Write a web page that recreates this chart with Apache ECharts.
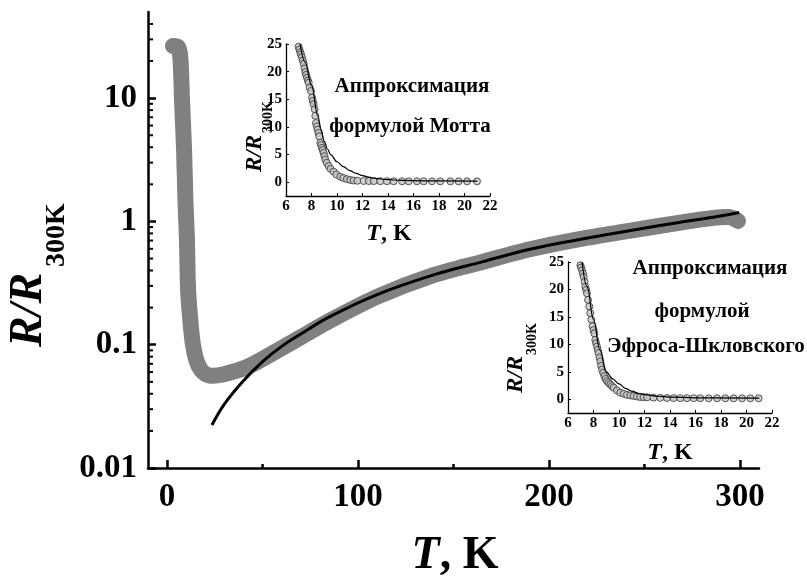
<!DOCTYPE html>
<html>
<head>
<meta charset="utf-8">
<script src="https://cdn.jsdelivr.net/npm/echarts@6/dist/echarts.min.js"></script>
<style>html,body{margin:0;padding:0;background:#fff;}#c{width:807px;height:578px;}</style>
</head>
<body>
<div id="c"></div>
<script>
// ---------- main plot data ----------
const bandT = [3.1,5.7,6.8,7.3,7.8,8.9,9.6,10.4,11.0,12.3,13.6,15.7,18.8,23.5,30.3,41.9,50.2,70,85,110,138,164,190,216,242,268,286,294,299];
const bandR = [26.5,26.0,22.4,16.9,9.7,3.8,1.49,0.71,0.28,0.15,0.099,0.072,0.060,0.056,0.058,0.066,0.077,0.115,0.156,0.245,0.36,0.465,0.595,0.72,0.84,0.975,1.07,1.085,1.01];
const fitT = [23.5,30,40,50,60,70,85,110,140,165,190,216,242,268,286,299.6];
const fitR = [0.0223,0.033,0.051,0.073,0.097,0.122,0.168,0.255,0.37,0.47,0.595,0.715,0.84,0.98,1.08,1.18];
const mainXTicks = [0,100,200,300];
const mainXMinor = [50,150,250];
const mainYTickLabels = ['0.01','0.1','1','10'];
const mainYMinor = [0.02,0.03,0.04,0.05,0.06,0.07,0.08,0.09,0.2,0.3,0.4,0.5,0.6,0.7,0.8,0.9,2,3,4,5,6,7,8,9,20,30,40];

// ---------- inset 1 (Mott) ----------
const inset1T = [6.99,7.05,7.12,7.18,7.25,7.32,7.39,7.45,7.52,7.58,7.65,7.72,7.78,7.86,7.96,8.04,8.10,8.17,8.25,8.30,8.35,8.42,8.48,8.55,8.61,8.69,8.75,8.82,8.88,8.95,9.02,9.08,9.2,9.35,9.5,9.74,9.95,10.26,10.5,10.78,11.05,11.31,11.6,12.09,12.5,12.88,13.4,13.92,14.44,15.10,15.62,16.27,16.80,17.45,18.10,18.89,19.54,20.20,20.98];
const inset1R = [24.5,24.0,23.5,23.1,22.6,22.0,21.4,20.6,19.9,19.4,18.9,18.4,18.0,17.1,16.5,15.3,14.7,14.1,13.2,12.0,10.7,10.1,9.5,8.9,8.3,7.1,6.7,6.2,5.8,5.3,4.7,4.1,3.5,2.9,2.4,1.9,1.4,1.0,0.75,0.55,0.4,0.3,0.25,0.22,0.2,0.2,0.18,0.18,0.17,0.17,0.16,0.16,0.16,0.15,0.15,0.15,0.15,0.15,0.15];
const mottT = [7.1,7.5,8,8.5,8.75,9,9.25,9.5,10,10.5,11,11.5,12,12.5,13,14,15,17,21];
const mottR = [25,21.7,17.5,12,9.5,7.4,6,5,3.7,2.8,2.1,1.6,1.2,0.9,0.7,0.45,0.33,0.25,0.2];

// ---------- inset 2 (Efros-Shklovskii) ----------
const inset2T = [6.97,7.03,7.1,7.17,7.23,7.3,7.36,7.43,7.49,7.57,7.67,7.75,7.83,7.93,8.0,8.07,8.14,8.2,8.27,8.34,8.4,8.47,8.54,8.6,8.67,8.76,8.85,8.95,9.06,9.19,9.32,9.45,9.58,9.84,10.1,10.37,10.63,10.89,11.15,11.41,11.67,11.93,12.2,12.7,13.24,13.76,14.29,14.81,15.33,15.86,16.38,17.03,17.69,18.34,18.99,19.65,20.3,20.95];
const inset2R = [24.4,24.0,23.5,22.9,22.3,21.4,20.5,19.9,19.3,18.1,16.9,15.7,14.5,13.3,12.6,12.0,10.8,10.2,9.6,9.0,8.4,7.6,6.9,6.1,5.4,4.8,4.2,3.7,3.3,3.0,2.7,2.4,2.1,1.6,1.2,1.0,0.8,0.7,0.6,0.5,0.4,0.38,0.36,0.3,0.26,0.24,0.22,0.2,0.2,0.19,0.19,0.18,0.18,0.18,0.17,0.17,0.17,0.17];
const esT = [7.1,7.5,8,8.5,9,9.5,10,10.5,11,11.5,12,13,14,16,21];
const esR = [25,20.5,14.5,9,5.0,3.7,2.8,2.0,1.5,1.1,0.85,0.55,0.4,0.27,0.2];

const insetYTicks = [0,5,10,15,20,25];

const FONT = "'Liberation Serif', 'Times New Roman', serif";
const zip = (a, b) => a.map((v, i) => [v, b[i]]);

function insetAxes(gi) {
  const x = {
    gridIndex: gi, type: 'value', min: 6, max: 22, interval: 2,
    axisLine: {show: true, onZero: false, lineStyle: {color: '#000', width: 1.3}},
    axisTick: {show: true, inside: true, length: 3, lineStyle: {color: '#000', width: 1}},
    axisLabel: {color: '#000', fontFamily: FONT, fontWeight: 'bold', fontSize: 15, margin: 3},
    splitLine: {show: false}
  };
  const y = {
    gridIndex: gi, type: 'value', min: -2.5, max: 25,
    axisLine: {show: true, onZero: false, lineStyle: {color: '#000', width: 1.3}},
    axisTick: {show: true, inside: true, length: 3, customValues: insetYTicks, lineStyle: {color: '#000', width: 1}},
    axisLabel: {color: '#000', fontFamily: FONT, fontWeight: 'bold', fontSize: 15, margin: 4, customValues: insetYTicks},
    splitLine: {show: false}
  };
  return [x, y];
}
const [ix1, iy1] = insetAxes(1);
const [ix2, iy2] = insetAxes(2);

function txt(x, y, text, size, opts) {
  opts = opts || {};
  return {
    type: 'text', x: x, y: y, rotation: opts.rot || 0, z: 100,
    style: {
      text: text, x: 0, y: 0, fill: '#000',
      font: (opts.italic ? 'italic ' : '') + 'bold ' + size + 'px ' + FONT,
      textAlign: opts.align || 'center', textVerticalAlign: 'middle'
    }
  };
}
function tkLabel(x, y, size) {
  return {
    type: 'text', x: x, y: y, z: 100,
    style: {
      text: '{i|T}{n|, K}', x: 0, y: 0, textAlign: 'center', textVerticalAlign: 'middle',
      rich: {
        i: {fontFamily: FONT, fontWeight: 'bold', fontStyle: 'italic', fontSize: size, fill: '#000'},
        n: {fontFamily: FONT, fontWeight: 'bold', fontSize: size, fill: '#000'}
      }
    }
  };
}

const chart = echarts.init(document.getElementById('c'), null, {renderer: 'canvas'});
chart.setOption({
  animation: false,
  backgroundColor: '#fff',
  grid: [
    {left: 148, top: 12, width: 611, height: 456, outerBoundsMode: 'none', containLabel: false},
    {left: 286, top: 44, width: 204, height: 152, outerBoundsMode: 'none', containLabel: false},
    {left: 568, top: 262, width: 204, height: 151, outerBoundsMode: 'none', containLabel: false}
  ],
  xAxis: [
    {
      gridIndex: 0, type: 'value', min: -10, max: 310,
      axisLine: {show: true, onZero: false, lineStyle: {color: '#000', width: 2.5}},
      axisTick: {show: true, inside: true, length: 8, customValues: mainXTicks, lineStyle: {color: '#000', width: 2.5}},
      axisLabel: {color: '#000', fontFamily: FONT, fontWeight: 'bold', fontSize: 33, margin: 13, customValues: mainXTicks},
      splitLine: {show: false}
    },
    ix1, ix2
  ],
  yAxis: [
    {
      gridIndex: 0, type: 'log', logBase: 10, min: 0.01, max: 50,
      axisLine: {show: true, onZero: false, lineStyle: {color: '#000', width: 2.5}},
      axisTick: {show: true, inside: true, length: 8, lineStyle: {color: '#000', width: 2.5}},
      axisLabel: {
        color: '#000', fontFamily: FONT, fontWeight: 'bold', fontSize: 33, margin: 11,
        showMaxLabel: false,
        formatter: function (v) {
          const e = Math.round(Math.log10(v));
          if (Math.abs(Math.log10(v) - e) > 1e-6) return '';
          return mainYTickLabels[e + 2] || '';
        }
      },
      splitLine: {show: false}
    },
    iy1, iy2
  ],
  series: [
    {
      type: 'line', xAxisIndex: 0, yAxisIndex: 0, data: zip(bandT, bandR),
      showSymbol: false, smooth: 0.3, z: 2,
      lineStyle: {color: '#808080', width: 16, cap: 'round', join: 'round'}
    },
    {
      type: 'line', xAxisIndex: 0, yAxisIndex: 0, data: zip(fitT, fitR),
      showSymbol: false, smooth: 0.4, z: 3,
      lineStyle: {color: '#000', width: 3}
    },
    {
      type: 'scatter', xAxisIndex: 1, yAxisIndex: 1, data: zip(inset1T, inset1R),
      symbol: 'circle', symbolSize: 7, z: 3,
      itemStyle: {color: '#c4c4c4', borderColor: '#333', borderWidth: 1}
    },
    {
      type: 'line', xAxisIndex: 1, yAxisIndex: 1, data: zip(mottT, mottR),
      showSymbol: false, smooth: 0.4, smoothMonotone: 'x', z: 4,
      lineStyle: {color: '#000', width: 1.2}
    },
    {
      type: 'scatter', xAxisIndex: 2, yAxisIndex: 2, data: zip(inset2T, inset2R),
      symbol: 'circle', symbolSize: 7, z: 3,
      itemStyle: {color: '#c4c4c4', borderColor: '#333', borderWidth: 1}
    },
    {
      type: 'line', xAxisIndex: 2, yAxisIndex: 2, data: zip(esT, esR),
      showSymbol: false, smooth: 0.4, smoothMonotone: 'x', z: 4,
      lineStyle: {color: '#000', width: 1.2}
    }
  ]
});

// texts + log-style minor ticks placed through the axes' own scales
const graphics = [
  tkLabel(455, 556, 46),
  txt(29, 347, 'R/R', 46, {rot: Math.PI / 2, italic: true, align: 'left'}),
  txt(57, 267, '300K', 28, {rot: Math.PI / 2, align: 'left'}),
  tkLabel(389, 234, 24),
  txt(255.5, 172, 'R/R', 23, {rot: Math.PI / 2, italic: true, align: 'left'}),
  txt(268, 133, '300K', 14, {rot: Math.PI / 2, align: 'left'}),
  txt(412, 87, 'Аппроксимация', 21),
  txt(410, 127, 'формулой Мотта', 21),
  tkLabel(670, 453, 24),
  txt(516, 393, 'R/R', 23, {rot: Math.PI / 2, italic: true, align: 'left'}),
  txt(532, 355, '300K', 14, {rot: Math.PI / 2, align: 'left'}),
  txt(710, 269, 'Аппроксимация', 21),
  txt(702, 312, 'формулой', 21),
  txt(706, 347, 'Эфроса-Шкловского', 21)
];
mainYMinor.forEach(function (v) {
  const p = chart.convertToPixel({xAxisIndex: 0, yAxisIndex: 0}, [-10, v]);
  graphics.push({type: 'line', z: 50, shape: {x1: p[0], y1: p[1], x2: p[0] + 5, y2: p[1]}, style: {stroke: '#000', lineWidth: 2}});
});
mainXMinor.forEach(function (v) {
  const p = chart.convertToPixel({xAxisIndex: 0, yAxisIndex: 0}, [v, 0.01]);
  graphics.push({type: 'line', z: 50, shape: {x1: p[0], y1: p[1], x2: p[0], y2: p[1] - 4}, style: {stroke: '#000', lineWidth: 2.5}});
});
chart.setOption({graphic: graphics});
</script>
</body>
</html>
